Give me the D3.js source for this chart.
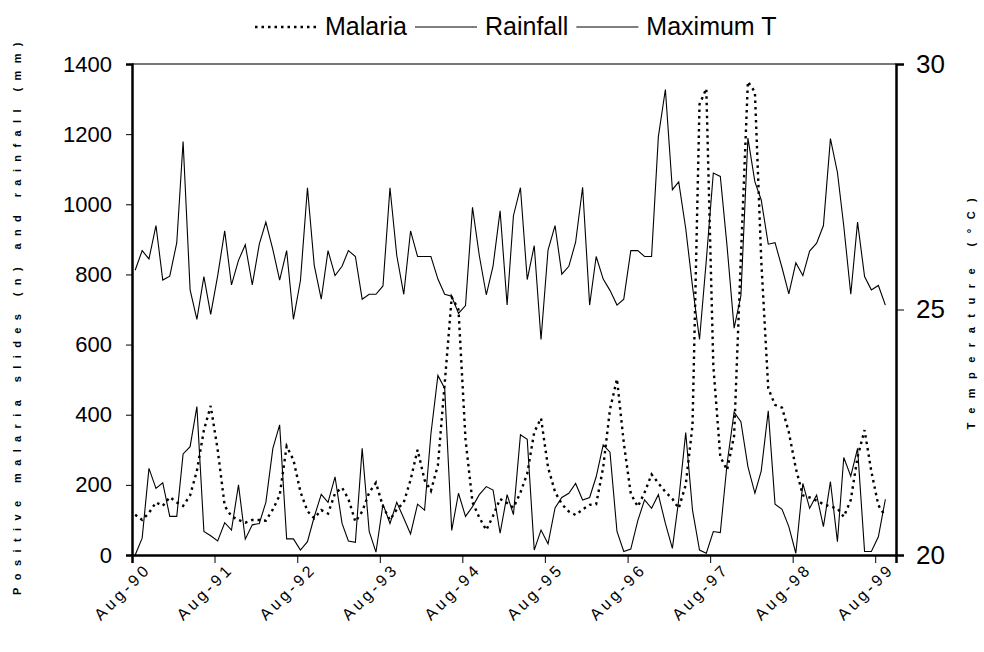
<!DOCTYPE html>
<html>
<head>
<meta charset="utf-8">
<script src="https://cdn.jsdelivr.net/npm/d3@7"></script>
<style>
  body { margin: 0; background: #fff; }
  svg text { font-family: "Liberation Sans", Arial, sans-serif; fill: #000; }
</style>
</head>
<body>
<div id="chart"></div>
<script>
// monthly series, first value = Aug-90
const malaria = [
  115, 100, 120, 150, 140, 165, 150, 140, 170, 240, 356, 425, 300, 140, 110, 100,
  92, 100, 100, 98, 130, 170, 310, 271, 180, 125, 105, 128, 118, 176, 192, 160,
  95, 124, 178, 206, 138, 100, 130, 150, 214, 300, 214, 183, 256, 489, 735, 700,
  330, 150, 107, 71, 112, 160, 148, 135, 178, 232, 350, 390, 250, 180, 145, 124,
  114, 130, 143, 145, 250, 415, 502, 320, 175, 138, 178, 230, 205, 180, 160, 133,
  200, 370, 1285, 1330, 540, 280, 242, 340, 850, 1350, 1320, 840, 475, 428, 420, 350,
  247, 170, 164, 155, 145, 138, 133, 109, 157, 280, 356, 238, 142, 110
];
const rainfall = [
  0, 48, 247, 190, 206, 110, 110, 288, 309, 423, 67, 55, 40, 92, 71, 200,
  45, 86, 90, 150, 304, 371, 46, 46, 14, 38, 109, 173, 150, 223, 90, 40,
  36, 304, 67, 8, 145, 90, 150, 105, 60, 145, 128, 345, 512, 475, 70, 176,
  110, 138, 172, 195, 185, 62, 172, 115, 343, 330, 14, 71, 32, 134, 164, 176,
  204, 157, 164, 223, 314, 293, 67, 10, 17, 98, 157, 133, 172, 90, 19, 157,
  349, 128, 14, 5, 67, 64, 261, 407, 380, 252, 176, 240, 411, 145, 130, 81,
  5, 204, 133, 171, 81, 209, 38, 278, 225, 304, 10, 10, 52, 159
];
const maxTemp = [
  25.80, 26.20, 26.03, 26.71, 25.60, 25.68, 26.36, 28.42, 25.40, 24.80, 25.67, 24.90, 25.69, 26.60, 25.50, 26.00,
  26.32, 25.50, 26.33, 26.78, 26.22, 25.60, 26.20, 24.80, 25.59, 27.48, 25.90, 25.21, 26.20, 25.69, 25.88, 26.20,
  26.08, 25.21, 25.31, 25.31, 25.48, 27.48, 26.10, 25.31, 26.60, 26.08, 26.08, 26.08, 25.62, 25.31, 25.27, 24.92,
  25.08, 27.08, 26.10, 25.30, 25.89, 27.01, 25.09, 26.91, 27.48, 25.61, 26.30, 24.39, 26.21, 26.71, 25.72, 25.88,
  26.37, 27.49, 25.09, 26.08, 25.62, 25.39, 25.09, 25.21, 26.20, 26.20, 26.08, 26.08, 28.52, 29.48, 27.44, 27.60,
  26.65, 25.47, 24.39, 26.00, 27.78, 27.71, 26.28, 24.62, 25.28, 28.49, 27.60, 27.23, 26.33, 26.36, 25.85, 25.32,
  25.95, 25.69, 26.19, 26.35, 26.71, 28.48, 27.79, 26.70, 25.31, 26.78, 25.67, 25.40, 25.49, 25.09
];
const tickYears = [1990, 1991, 1992, 1993, 1994, 1995, 1996, 1997, 1998, 1999];
const tickLabels = ["Aug-90", "Aug-91", "Aug-92", "Aug-93", "Aug-94", "Aug-95", "Aug-96", "Aug-97", "Aug-98", "Aug-99"];
const leftTicks = [0, 200, 400, 600, 800, 1000, 1200, 1400];
const rightTicks = [20, 25, 30];
const seriesNames = ["Malaria", "Rainfall", "Maximum T"];
const leftTitle = "Positive malaria slides (n) and rainfall (mm)";
const rightTitle = "Temperature (°C)";

const width = 984, height = 652;
const plot = { left: 132, right: 896, top: 64, bottom: 555 };

const months = d3.range(malaria.length).map(i => new Date(1990, 7 + i, 15));

const x = d3.scaleTime()
  .domain([new Date(1990, 7, 1), new Date(1999, 10, 1)])
  .range([plot.left, plot.right]);
const yL = d3.scaleLinear().domain([0, 1400]).range([plot.bottom, plot.top]);
const yR = d3.scaleLinear().domain([20, 30]).range([plot.bottom, plot.top]);

const svg = d3.select('#chart').append('svg')
  .attr('width', width)
  .attr('height', height);

// top border of the plot area
svg.append('line')
  .attr('x1', plot.left).attr('x2', plot.right)
  .attr('y1', plot.top).attr('y2', plot.top)
  .attr('stroke', '#777').attr('stroke-width', 2);

// series
var lineL = d3.line().x((d, i) => x(months[i])).y(d => yL(d));
var lineR = d3.line().x((d, i) => x(months[i])).y(d => yR(d));

svg.append('path').datum(rainfall)
  .attr('fill', 'none').attr('stroke', '#000').attr('stroke-width', 1.1)
  .attr('d', lineL);
svg.append('path').datum(maxTemp)
  .attr('fill', 'none').attr('stroke', '#000').attr('stroke-width', 1.1)
  .attr('d', lineR);
svg.append('path').datum(malaria)
  .attr('fill', 'none').attr('stroke', '#000').attr('stroke-width', 2.4)
  .attr('stroke-dasharray', '2.5,4')
  .attr('d', lineL);

// axes
var leftAxis = svg.append('g')
  .attr('transform', 'translate(' + plot.left + ',0)')
  .call(d3.axisLeft(yL).tickValues(leftTicks).tickSize(6).tickPadding(14).tickFormat(d3.format('d')));
var rightAxis = svg.append('g')
  .attr('transform', 'translate(' + plot.right + ',0)')
  .call(d3.axisRight(yR).tickValues(rightTicks).tickSize(8).tickPadding(12));
var bottomAxis = svg.append('g')
  .attr('transform', 'translate(0,' + plot.bottom + ')')
  .call(d3.axisBottom(x)
    .tickValues(tickYears.map(y => new Date(y, 7, 1)))
    .tickSize(8)
    .tickFormat(''));

[leftAxis, rightAxis, bottomAxis].forEach(g => {
  g.select('.domain').attr('stroke', '#000').attr('stroke-width', 2.5);
  g.selectAll('.tick line').attr('stroke', '#000').attr('stroke-width', 1);
});
leftAxis.selectAll('.tick text').attr('font-size', 22).attr('font-family', null);
rightAxis.selectAll('.tick text').attr('font-size', 26).attr('font-family', null);

// rotated date labels
svg.append('g').selectAll('text')
  .data(tickYears)
  .enter()
  .append('text')
  .attr('transform', (d) => 'translate(' + (x(new Date(d, 7, 1)) + 20) + ',' + 570 + ') rotate(-45)')
  .attr('text-anchor', 'end')
  .attr('font-size', 16)
  .attr('letter-spacing', 3.5)
  .text((d, i) => tickLabels[i]);

// axis titles
svg.append('text')
  .attr('transform', 'translate(21,315) rotate(-90)')
  .attr('text-anchor', 'middle')
  .attr('font-size', 11)
  .attr('font-weight', 'bold')
  .attr('letter-spacing', 7.4)
  .text(leftTitle);
svg.append('text')
  .attr('transform', 'translate(975,309) rotate(-90)')
  .attr('text-anchor', 'middle')
  .attr('font-size', 11)
  .attr('font-weight', 'bold')
  .attr('letter-spacing', 9.5)
  .text(rightTitle);

// legend
var legend = svg.append('g');
var lx = 255;
seriesNames.forEach((name, i) => {
  legend.append('line')
    .attr('x1', lx).attr('x2', lx + 62)
    .attr('y1', 27).attr('y2', 27)
    .attr('stroke', '#000')
    .attr('stroke-width', i === 0 ? 2.4 : 1.1)
    .attr('stroke-dasharray', i === 0 ? '2.5,4' : null);
  var t = legend.append('text')
    .attr('x', lx + 70).attr('y', 35)
    .attr('font-size', 25)
    .text(name);
  lx += 70 + t.node().getComputedTextLength() + 8;
});
</script>
</body>
</html>
